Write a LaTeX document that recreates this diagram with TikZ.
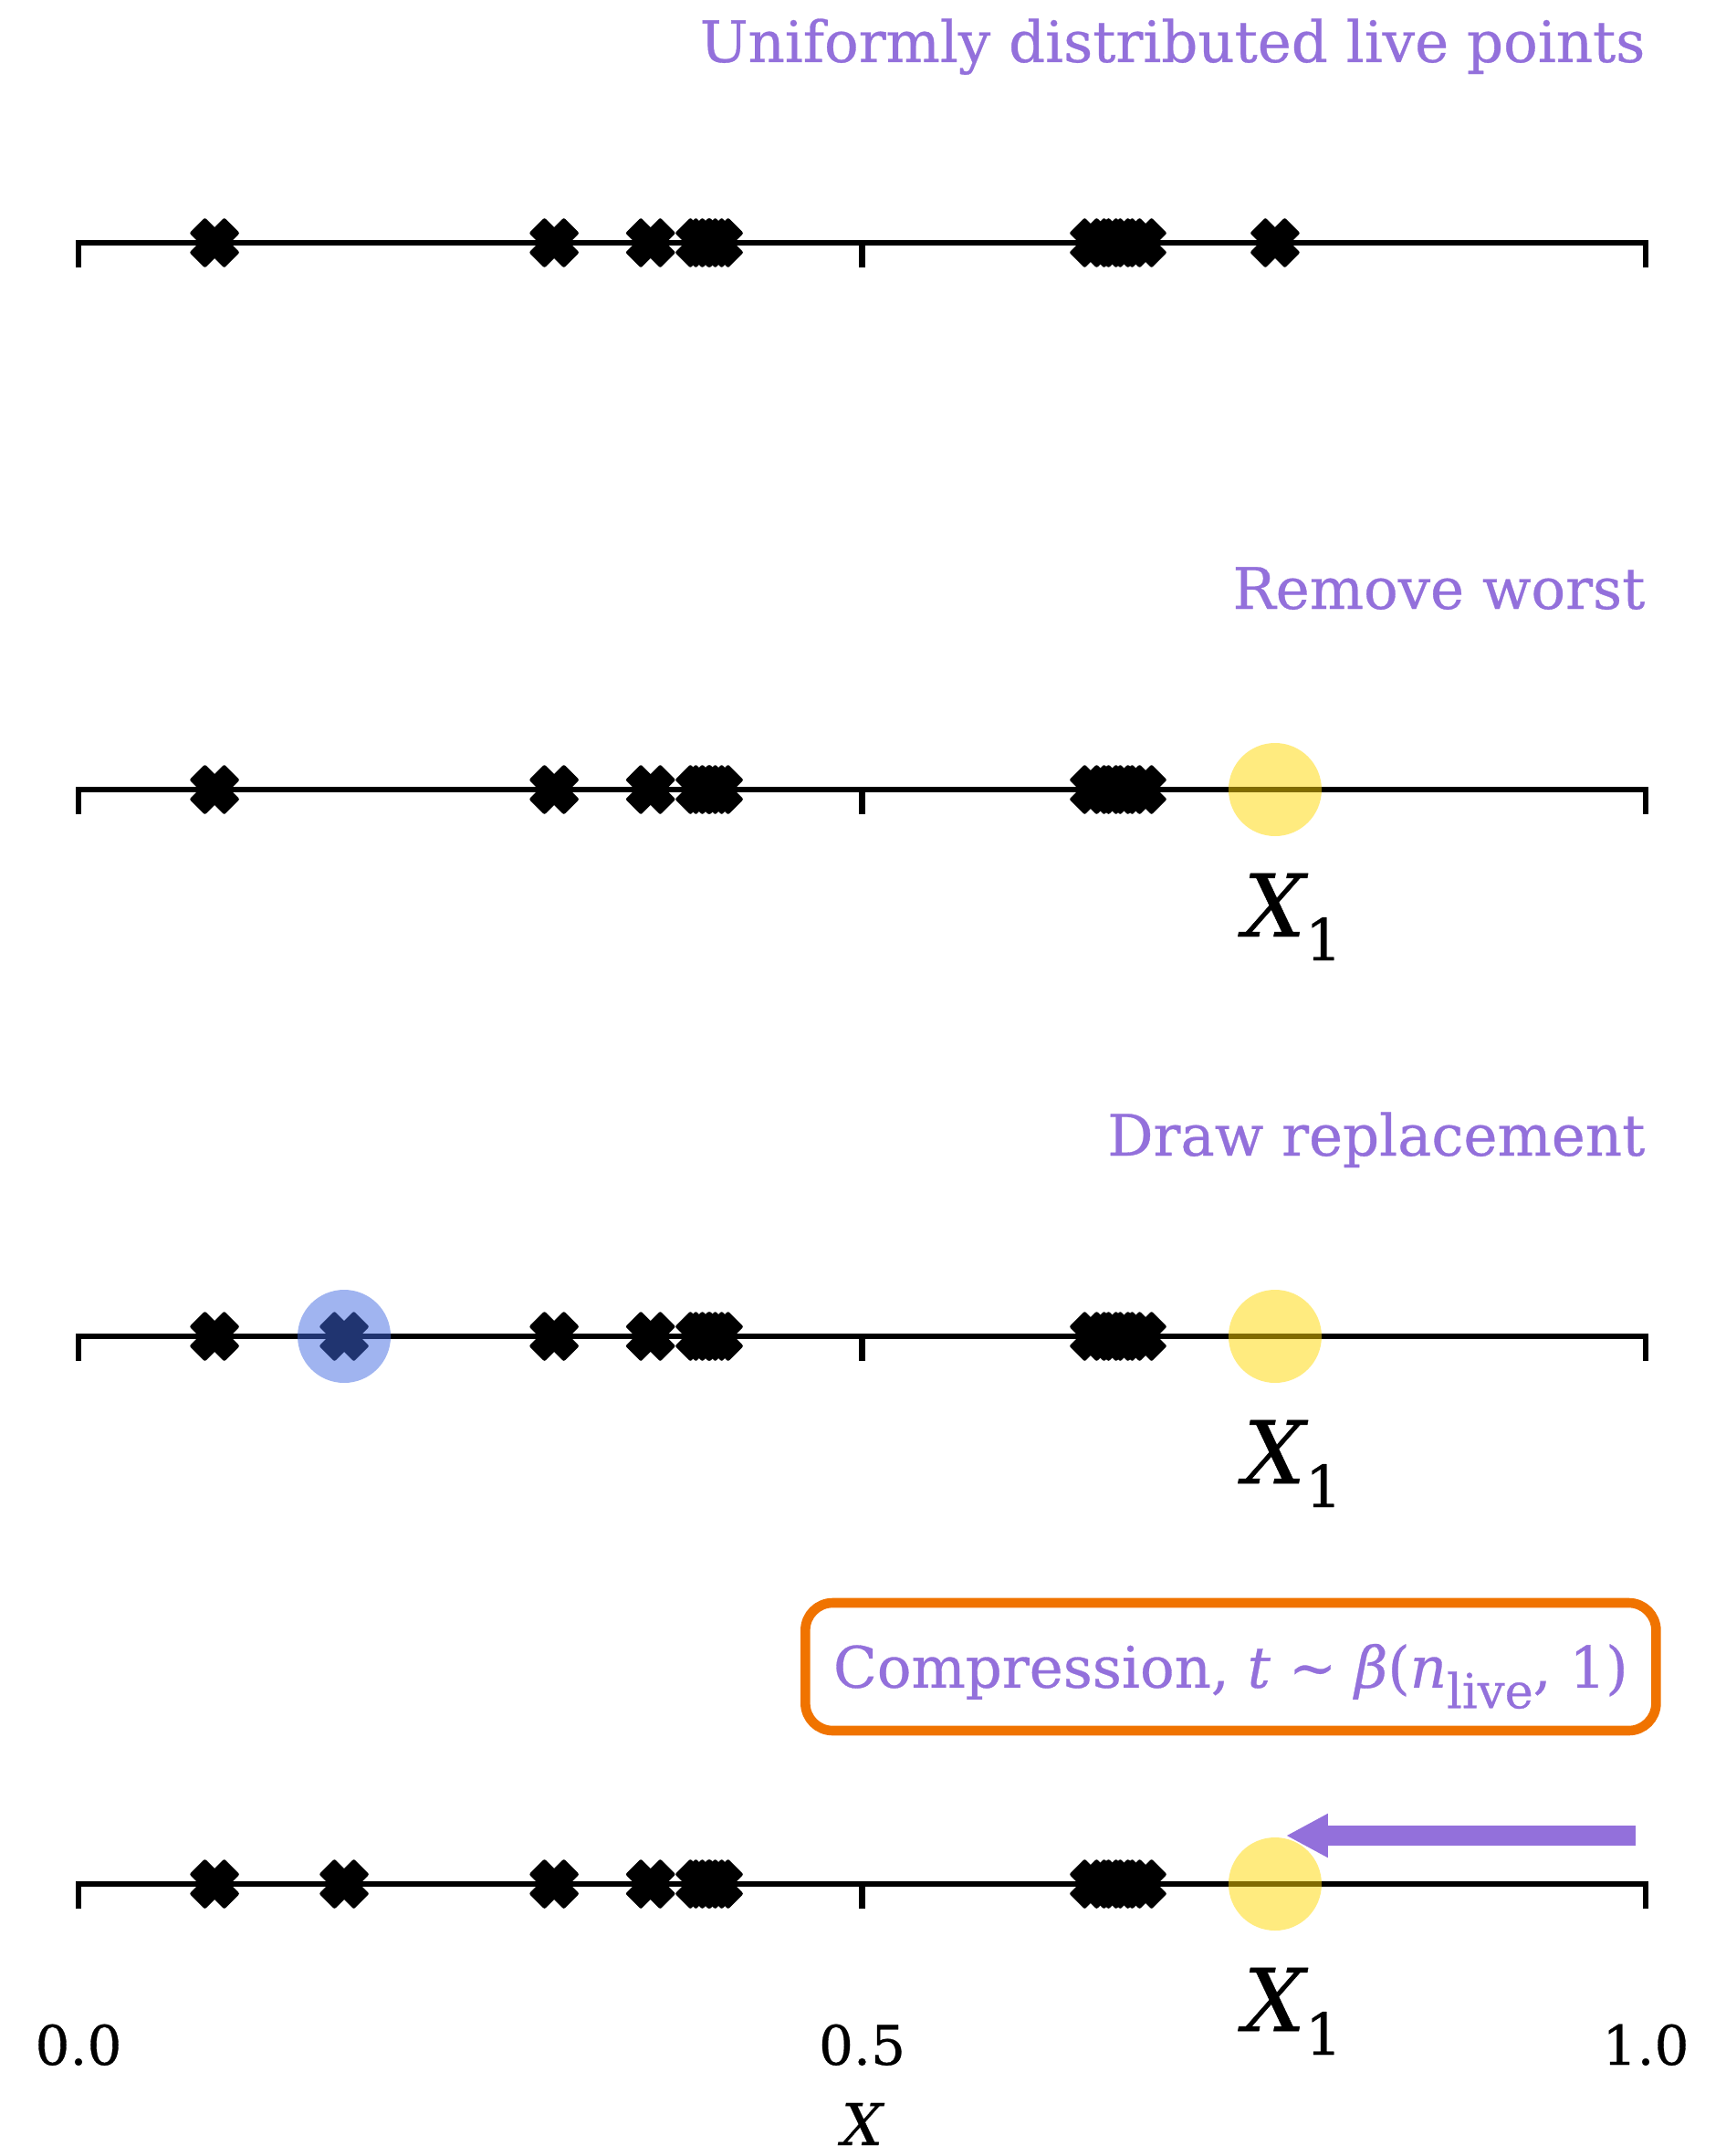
\documentclass[tikz,border=0pt]{standalone}
\usepackage{fontspec}
\setmainfont{DejaVu Serif}[FakeBold=0.5]
\usetikzlibrary{arrows.meta}
\definecolor{lilac}{RGB}{147,112,219}
\definecolor{tangerine}{RGB}{240,115,0}
\definecolor{gold}{RGB}{255,215,0}
\definecolor{royal}{RGB}{65,105,225}
\newcommand{\ttlfont}{\fontsize{17.8pt}{21pt}\selectfont}
\tikzset{
  axisline/.style={line width=0.068cm,line join=miter},
  ttl/.style={text=lilac,font=\ttlfont,inner sep=0pt,anchor=base east},
  worst/.style={circle,fill=gold,opacity=0.5,minimum size=1.02cm,inner sep=0pt},
  fresh/.style={circle,fill=royal,opacity=0.5,minimum size=1.02cm,inner sep=0pt},
  xlab/.style={font=\fontsize{27pt}{30pt}\selectfont\itshape,inner sep=0pt,anchor=base west},
  ticklab/.style={font=\fontsize{17pt}{20pt}\selectfont,inner sep=0pt,anchor=base},
  cbox/.style={draw=tangerine,line width=0.106cm,rounded corners=0.3cm,
    minimum width=9.32cm,minimum height=1.40cm,text=lilac,font=\ttlfont,
    text height=0.456cm,text depth=0pt,inner sep=0pt},
  push/.style={-{Triangle[length=4.6mm,width=4.5mm]},draw=lilac,line width=0.22cm},
  % filled x marker for a live point
  pics/livept/.style={code={
    \filldraw[line width=0.04cm,line join=round,rotate=45]
      (-0.1cm,-0.25cm) -- (0.1cm,-0.25cm) -- (0.1cm,-0.1cm) -- (0.25cm,-0.1cm)
      -- (0.25cm,0.1cm) -- (0.1cm,0.1cm) -- (0.1cm,0.25cm) -- (-0.1cm,0.25cm)
      -- (-0.1cm,0.1cm) -- (-0.25cm,0.1cm) -- (-0.25cm,-0.1cm) -- (-0.1cm,-0.1cm) -- cycle;
  }},
}
\newcommand{\xone}{\textit{X}\raisebox{-0.26cm}{\fontsize{18pt}{20pt}\selectfont\upshape 1}}

\begin{document}
\begin{tikzpicture}[x=17.17cm,y=1cm]
  \useasboundingbox (-0.0501,0) rectangle (1.0507,-23.62);
  % the four number lines
  \foreach \y in {-2.66,-8.65,-14.64,-20.64} {
    \draw[axisline] (0,\y-0.27) -- (0,\y) -- (1,\y) -- (1,\y-0.27);
    \draw[axisline] (0.5,\y) -- (0.5,\y-0.27);
    \foreach \p in {0.0868,0.3035,0.365,0.3966,0.4001,0.4042,0.4083,
                    0.6482,0.6558,0.6634,0.6709,0.6785}
      \pic at (\p,\y) {livept};
  }
  \pic at (0.7635,-2.66) {livept};
  \pic at (0.1695,-14.64) {livept};
  \pic at (0.1695,-20.64) {livept};

  \node[ttl] (t1) at (1,-0.68) {Uniformly distributed live points};
  \node[ttl] (t2) at (1,-6.67) {Remove worst};
  \node[ttl] (t3) at (1,-12.66) {Draw replacement};
  \node[cbox] (comp) at (0.7352,-18.26)
    {Compression, \textit{t} \textasciitilde{} \textit{β}(\textit{n}\raisebox{-0.36em}{\fontsize{15pt}{17pt}\selectfont live}, 1)};

  % removed point and its replacement
  \node[worst] (w2) at (0.7635,-8.65) {};
  \node[worst] (w3) at (0.7635,-14.64) {};
  \node[worst] (w4) at (0.7635,-20.64) {};
  \node[fresh] (n3) at (0.1695,-14.64) {};
  \node[xlab] (x2) at (0.743,-10.26) {\xone};
  \node[xlab] (x3) at (0.743,-16.25) {\xone};
  \node[xlab] (x4) at (0.743,-22.25) {\xone};

  \coordinate (pfrom) at (0.9936,-20.11);
  \coordinate (pto) at (0.7705,-20.11);
  \draw[push] (pfrom) -- (pto);

  \node[ticklab] (k0) at (0,-22.62) {0.0};
  \node[ticklab] (k5) at (0.5,-22.62) {0.5};
  \node[ticklab] (k10) at (1,-22.62) {1.0};
  \node[ticklab,font=\fontsize{18pt}{20pt}\selectfont\itshape] (xax) at (0.5,-23.5) {X};
\end{tikzpicture}
\end{document}
